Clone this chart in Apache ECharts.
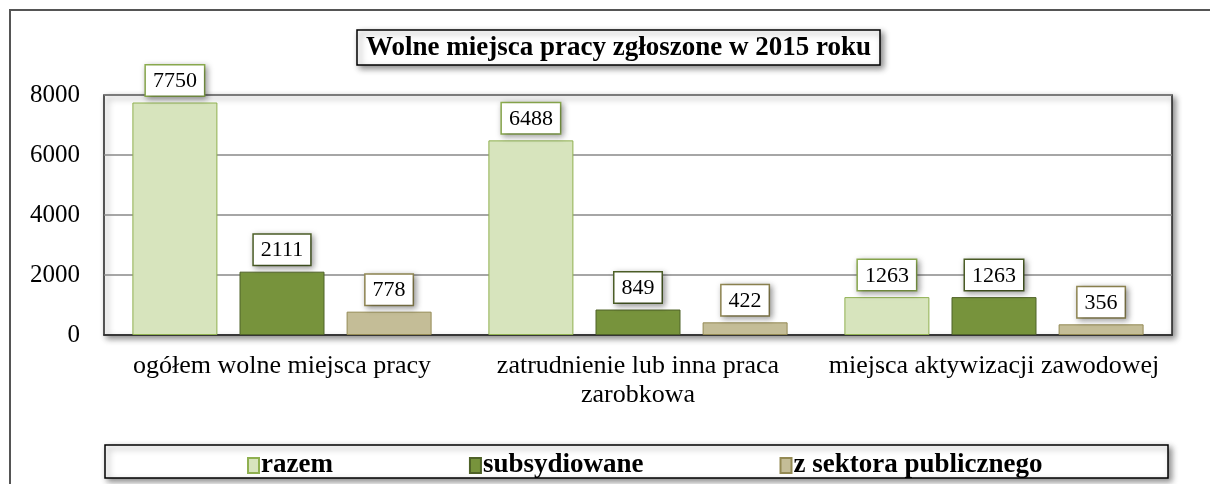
<!DOCTYPE html>
<html>
<head>
<meta charset="utf-8">
<script src="https://cdn.jsdelivr.net/npm/echarts@6/dist/echarts.min.js"></script>
<style>
  html, body { margin: 0; padding: 0; background: #fff; }
  #chart { width: 1210px; height: 484px; }
</style>
</head>
<body>
<div id="chart"></div>
<script>
const categories = ['ogółem wolne miejsca pracy', 'zatrudnienie lub inna praca\nzarobkowa', 'miejsca aktywizacji zawodowej']
const razem = [7750, 6488, 1263]
const subsydiowane = [2111, 849, 1263]
const publiczne = [778, 422, 356]
const seriesNames = ['razem', 'subsydiowane', 'z sektora publicznego']

const fills = ['#D7E4BD', '#77933C', '#C4BD97']
const borders = ['#8FB050', '#4F6228', '#948A54']
const serif = '"Liberation Serif", "Times New Roman", serif'

const makeSeries = (name, data, i) => ({
  name: name,
  type: 'bar',
  data: data,
  barWidth: 85,
  barGap: '26%',
  itemStyle: { color: fills[i], borderColor: borders[i], borderWidth: 1 },
  label: {
    show: true,
    position: 'top',
    distance: 7,
    fontFamily: serif,
    fontSize: 22,
    color: '#000',
    backgroundColor: '#fff',
    borderColor: borders[i],
    borderWidth: 1.5,
    padding: [5, 7, 3, 7],
    shadowBlur: 6,
    shadowColor: 'rgba(0,0,0,0.35)',
    shadowOffsetX: 2,
    shadowOffsetY: 2
  }
})

const chart = echarts.init(document.getElementById('chart'))
chart.setOption({
  animation: false,
  backgroundColor: '#fff',
  title: {
    text: 'Wolne miejsca pracy zgłoszone w 2015 roku',
    left: 357,
    top: 30,
    padding: [3, 9, 2, 9],
    backgroundColor: '#fff',
    borderColor: '#000',
    borderWidth: 1.5,
    shadowBlur: 6,
    shadowColor: 'rgba(0,0,0,0.45)',
    shadowOffsetX: 3,
    shadowOffsetY: 3,
    textStyle: { fontFamily: serif, fontSize: 27, fontWeight: 'bold', color: '#000', lineHeight: 30 }
  },
  graphic: [
    {
      type: 'rect', z: -10,
      shape: { x: 10, y: 10, width: 1260, height: 520 },
      style: { fill: '#fff', stroke: '#555', lineWidth: 2 }
    },
    {
      type: 'rect', z: -5,
      shape: { x: 105, y: 445, width: 1063, height: 33 },
      style: {
        fill: '#fff', stroke: '#000', lineWidth: 1.5,
        shadowBlur: 6, shadowColor: 'rgba(0,0,0,0.45)', shadowOffsetX: 3, shadowOffsetY: 3
      }
    }
  ],
  legend: {
    top: 447,
    left: 242,
    itemGap: 136,
    itemWidth: 11,
    itemHeight: 15,
    icon: 'rect',
    data: seriesNames,
    textStyle: { fontFamily: serif, fontSize: 27, fontWeight: 'bold', color: '#000', padding: [0, 0, 0, -3] }
  },
  grid: {
    left: 104, top: 95, width: 1068, height: 240,
    show: true,
    backgroundColor: '#fff',
    borderColor: '#222',
    borderWidth: 1.5,
    shadowBlur: 6,
    shadowColor: 'rgba(0,0,0,0.45)',
    shadowOffsetX: 3,
    shadowOffsetY: 3
  },
  xAxis: {
    type: 'category',
    data: categories,
    axisLine: { lineStyle: { color: '#222', width: 1.5 } },
    axisTick: { show: false },
    axisLabel: {
      interval: 0, hideOverlap: false,
      fontFamily: serif, fontSize: 26, color: '#000', margin: 17, lineHeight: 29
    }
  },
  yAxis: {
    type: 'value',
    min: 0,
    max: 8000,
    interval: 2000,
    axisLine: { show: false },
    axisTick: { show: false },
    splitLine: { lineStyle: { color: '#888', width: 1.5 } },
    axisLabel: { fontFamily: serif, fontSize: 25, color: '#000', margin: 24, formatter: v => String(v) }
  },
  series: [
    makeSeries(seriesNames[0], razem, 0),
    makeSeries(seriesNames[1], subsydiowane, 1),
    makeSeries(seriesNames[2], publiczne, 2)
  ]
})
</script>
</body>
</html>
